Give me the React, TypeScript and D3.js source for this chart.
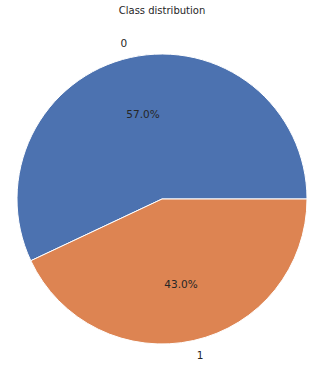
import React, { useEffect, useRef } from "react";
import * as d3 from "d3";

const categories = ["0", "1"];
const values = [57.0, 43.0];
const colors = ["#4C72B0", "#DD8452"];
const title = "Class distribution";

export default function App() {
  const ref = useRef<SVGSVGElement>(null);
  useEffect(() => {
    const svg = d3.select(ref.current);
    svg.selectAll("*").remove();
    const cx = 162, cy = 199, r = 145;
    const total = d3.sum(values);
    const toRad = (v: number) => Math.PI / 2 - (v / total) * 2 * Math.PI;
    const g = svg.append("g").attr("transform", `translate(${cx},${cy})`);
    let acc = 0;
    const arc = d3.arc<any>().innerRadius(0).outerRadius(r);
    values.forEach((v, i) => {
      const a0 = toRad(acc);
      const a1 = toRad(acc + v);
      g.append("path")
        .attr("d", arc({ startAngle: a1, endAngle: a0 }) as string)
        .attr("fill", colors[i])
        .attr("stroke", "#fff")
        .attr("stroke-width", 1);
      const mid = ((acc + v / 2) / total) * 2 * Math.PI;
      const lx = 1.1 * r * Math.cos(mid), ly = -1.1 * r * Math.sin(mid);
      const px = 0.6 * r * Math.cos(mid), py = -0.6 * r * Math.sin(mid);
      g.append("text")
        .attr("x", lx).attr("y", ly)
        .attr("text-anchor", lx < 0 ? "end" : "start")
        .attr("dominant-baseline", "central")
        .attr("font-family", "DejaVu Sans")
        .attr("font-size", 10.5)
        .attr("fill", "#262626")
        .text(categories[i]);
      g.append("text")
        .attr("x", px).attr("y", py)
        .attr("text-anchor", "middle")
        .attr("dominant-baseline", "central")
        .attr("font-family", "DejaVu Sans")
        .attr("font-size", 10.5)
        .attr("fill", "#262626")
        .text(`${v.toFixed(1)}%`);
      acc += v;
    });
    svg.append("text")
      .attr("x", cx).attr("y", 10)
      .attr("text-anchor", "middle")
      .attr("dominant-baseline", "central")
      .attr("font-family", "DejaVu Sans")
      .attr("font-size", 10)
      .attr("fill", "#262626")
      .text(title);
  }, []);
  return (
    <svg ref={ref} width={327} height={365}
      style={{ position: "absolute", left: 0, top: 0, background: "#fff" }} />
  );
}
